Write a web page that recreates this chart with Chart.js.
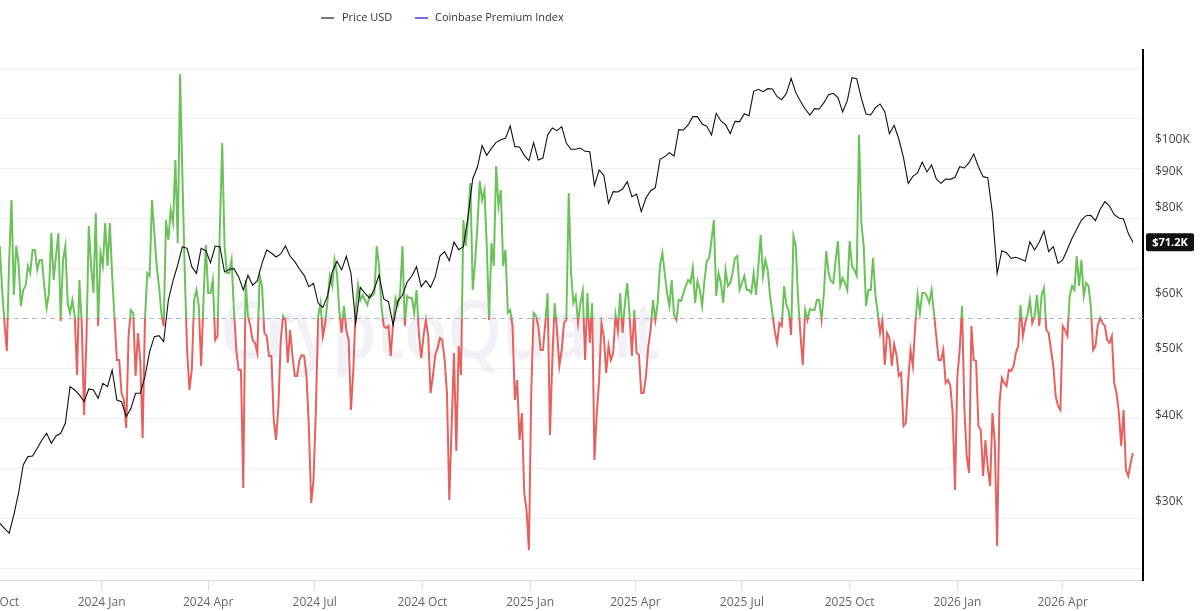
<!DOCTYPE html>
<html>
<head>
<meta charset="utf-8">
<script src="https://cdn.jsdelivr.net/npm/chart.js@4.4.1/dist/chart.umd.min.js"></script>
<style>
  html, body { margin: 0; padding: 0; background: #fff; overflow: hidden; }
  #wrap { position: absolute; left: -40px; top: 0; width: 1241px; height: 611px; }
</style>
</head>
<body>
<div id="wrap"><canvas id="chart"></canvas></div>
<script>
// Coinbase Premium Index, one reading every 2 days from 2023-10-06
const premiumStart = '2023-10-06'
const premiumStep = 2
const premiumIndex = [
    0.072, 0.028, -0.005, -0.033, 0.058, 0.118, 0.023, 0.072, 0.055, 0.012,
    0.028, 0.032, 0.052, 0.045, 0.068, 0.068, 0.048, 0.058, 0.058, 0.032,
    0.010, 0.025, 0.085, 0.038, 0.062, 0.085, -0.003, 0.058, 0.072, 0.015,
    0.005, 0.018, 0.002, -0.057, 0.038, -0.005, -0.097, -0.022, 0.092, 0.052,
    0.025, 0.105, -0.008, 0.065, 0.052, 0.095, 0.052, 0.095, 0.042, 0.000,
    -0.042, -0.042, -0.075, -0.082, -0.110, -0.018, 0.008, 0.005, -0.058, -0.015,
    -0.043, -0.120, -0.002, 0.045, 0.042, 0.118, 0.085, 0.052, 0.032, 0.005,
    -0.008, 0.098, 0.078, 0.108, 0.095, 0.158, 0.075, 0.244, 0.142, 0.045,
    -0.032, -0.072, -0.052, 0.018, 0.028, 0.012, -0.048, 0.018, 0.073, 0.025,
    0.025, 0.038, -0.022, -0.018, 0.092, 0.175, 0.072, 0.045, 0.045, 0.058,
    0.008, -0.032, -0.052, -0.052, -0.170, 0.038, 0.002, -0.008, -0.022, -0.025,
    -0.035, 0.042, 0.032, -0.015, -0.018, -0.038, -0.038, -0.102, -0.122, -0.088,
    -0.022, 0.002, -0.002, -0.045, -0.012, -0.038, -0.058, -0.058, -0.042, -0.037,
    -0.038, -0.058, -0.108, -0.185, -0.162, -0.092, 0.002, 0.015, -0.018, -0.005,
    0.018, 0.042, 0.032, 0.058, 0.045, 0.008, -0.015, 0.012, -0.012, -0.022,
    -0.092, -0.052, 0.008, 0.033, 0.018, 0.023, 0.018, 0.013, 0.023, 0.022,
    0.025, 0.072, 0.052, 0.012, -0.008, -0.010, -0.008, -0.038, -0.005, 0.020,
    0.013, 0.025, 0.072, -0.008, 0.022, 0.020, 0.020, 0.005, 0.028, -0.015,
    -0.040, -0.018, -0.002, -0.018, -0.075, -0.058, -0.037, -0.030, -0.020, -0.022,
    -0.042, -0.075, -0.182, -0.108, -0.035, -0.133, -0.028, -0.057, 0.098, 0.072,
    0.098, 0.135, 0.028, 0.055, 0.092, 0.137, 0.118, 0.128, 0.072, -0.002,
    0.075, 0.052, 0.152, 0.112, 0.128, 0.052, 0.068, 0.005, 0.008, -0.008,
    -0.082, -0.062, -0.122, -0.095, -0.175, -0.192, -0.232, -0.075, 0.005, 0.002,
    -0.008, -0.032, -0.032, -0.005, 0.025, -0.117, -0.042, 0.015, -0.012, -0.048,
    -0.032, -0.005, -0.002, 0.125, 0.045, 0.015, 0.022, -0.005, 0.015, 0.027,
    -0.042, 0.025, -0.025, 0.015, -0.142, -0.095, -0.062, -0.005, -0.018, -0.055,
    -0.028, -0.042, -0.035, 0.003, -0.013, 0.025, -0.015, 0.015, 0.035, 0.003,
    -0.038, 0.008, -0.035, -0.037, -0.075, -0.075, -0.058, -0.028, -0.012, 0.018,
    -0.002, 0.015, 0.053, 0.065, 0.045, 0.025, 0.012, 0.038, 0.003, -0.002,
    0.018, 0.017, 0.025, 0.032, 0.038, 0.035, 0.050, 0.015, 0.037, 0.028,
    0.012, 0.038, 0.057, 0.060, 0.078, 0.098, 0.022, 0.045, 0.035, 0.015,
    0.048, 0.032, 0.035, 0.045, 0.060, 0.062, 0.028, 0.035, 0.042, 0.028,
    0.028, 0.025, 0.045, 0.023, 0.052, 0.083, 0.042, 0.058, 0.048, 0.022,
    0.005, -0.013, -0.025, -0.005, -0.008, 0.032, 0.013, 0.007, -0.017, 0.082,
    0.072, 0.018, -0.017, -0.047, 0.008, -0.002, 0.009, 0.008, 0.008, 0.018,
    0.018, -0.002, 0.025, 0.067, 0.045, 0.037, 0.035, 0.057, 0.077, 0.032,
    0.040, 0.035, 0.028, 0.077, 0.052, 0.048, 0.042, 0.183, 0.095, 0.072,
    0.012, 0.028, 0.028, 0.060, 0.023, 0.005, -0.015, -0.002, -0.047, -0.015,
    -0.020, -0.048, -0.026, -0.037, -0.058, -0.055, -0.108, -0.105, -0.063, -0.032,
    -0.048, -0.008, 0.023, 0.005, 0.025, 0.025, 0.022, 0.015, 0.028, 0.005,
    -0.018, -0.042, -0.042, -0.032, -0.065, -0.062, -0.068, -0.095, -0.172, -0.058,
    -0.032, 0.012, -0.090, -0.138, -0.155, -0.008, -0.042, -0.043, -0.108, -0.112,
    -0.158, -0.122, -0.150, -0.168, -0.095, -0.125, -0.228, -0.085, -0.060, -0.065,
    -0.068, -0.052, -0.053, -0.048, -0.035, -0.028, 0.013, -0.018, -0.005, 0.004,
    0.018, -0.005, 0.002, 0.023, -0.008, 0.023, 0.030, -0.012, -0.015, -0.032,
    -0.048, -0.078, -0.088, -0.092, -0.008, -0.012, -0.018, 0.022, 0.032, 0.028,
    0.062, 0.032, 0.058, 0.022, 0.035, 0.032, 0.012, -0.032, -0.028, -0.007,
    0.000, -0.005, -0.008, -0.022, -0.025, -0.018, -0.065, -0.075, -0.095, -0.128,
    -0.092, -0.152, -0.158, -0.145, -0.135
]

// BTC price in USD, one reading every 4 days from 2023-10-06
const priceStart = '2023-10-06'
const priceStep = 4
const priceUsd = [
    27950, 27490, 27040, 28740, 30890, 33930, 34890, 34970, 35870, 36870,
    37700, 36470, 37370, 37700, 38980, 44030, 43540, 42830, 41890, 43690,
    43540, 42350, 44520, 44030, 46540, 42120, 41890, 39850, 40970, 43070,
    43070, 45520, 49470, 52000, 52170, 51140, 58740, 62640, 65990, 70140,
    69750, 65620, 64180, 69750, 69210, 66500, 70290, 70140, 64470, 65050,
    65190, 63480, 60730, 63760, 61680, 62640, 66350, 69360, 68670, 67770,
    68450, 70290, 67920, 66720, 65120, 63760, 61400, 62080, 58090, 57320,
    59530, 64470, 66800, 64900, 67920, 64180, 54350, 61260, 60050, 59130,
    60990, 63830, 58930, 58410, 54050, 58480, 59720, 62360, 63620, 65620,
    61400, 62640, 61260, 63480, 67990, 68980, 66940, 71230, 69440, 70140,
    77490, 87930, 91310, 98140, 95030, 97270, 99230, 100110, 100550, 104770,
    97810, 97700, 95030, 93360, 99120, 93570, 94190, 101680, 104070, 103150,
    104530, 98900, 96950, 96950, 97380, 96300, 96190, 86000, 90500, 88910,
    81010, 84220, 84120, 84960, 87060, 82830, 83560, 78800, 82460, 84490,
    85340, 93770, 94610, 95880, 94820, 103500, 103380, 105120, 108070, 108070,
    105460, 104650, 101680, 109270, 106520, 105230, 102130, 106400, 106290, 109150,
    108430, 117570, 118350, 117440, 118610, 118480, 115500, 114350, 116790, 122760,
    117050, 113720, 110860, 108670, 110980, 110860, 113220, 116280, 116790, 115120,
    109760, 113970, 123040, 122630, 114860, 109030, 108670, 111350, 112720, 109880,
    102130, 105000, 100330, 94290, 86580, 88620, 89610, 92940, 89910, 92020,
    87840, 86580, 87840, 87740, 88320, 91510, 91110, 92740, 95450, 91510,
    88520, 88220, 78360, 64180, 69210, 68750, 67470, 67690, 67320, 66800,
    71310, 69360, 71230, 73890, 68980, 70140, 66350, 67100, 69520, 72110,
    74300, 76640, 77750, 77840, 76470, 79410, 81460, 80290, 78010, 77150,
    76900, 73320, 71200
]

const tickDates = ['2023-10-01', '2024-01-01', '2024-04-01', '2024-07-01', '2024-10-01', '2025-01-01',
    '2025-04-01', '2025-07-01', '2025-10-01', '2026-01-01', '2026-04-01']
const tickLabels = ['2023 Oct', '2024 Jan', '2024 Apr', '2024 Jul', '2024 Oct', '2025 Jan',
    '2025 Apr', '2025 Jul', '2025 Oct', '2026 Jan', '2026 Apr']
const priceTicks = [30000, 40000, 50000, 60000, 80000, 90000, 100000]

const FONT = "'Open Sans', 'Noto Sans', sans-serif"
const GREEN = '#6cc25a'
const RED = '#e6615e'

//days counted from 2023-10-01
const origin = Date.UTC(2023, 9, 1)
function dayOf(iso) {
    const [y, m, d] = iso.split('-').map(Number)
    return (Date.UTC(y, m - 1, d) - origin) / 86400000
}

const premiumPoints = premiumIndex.map((v, i) => ({x: dayOf(premiumStart) + i * premiumStep, y: v}))
const pricePoints = priceUsd.map((v, i) => ({x: dayOf(priceStart) + i * priceStep, y: v}))

//green above zero, red below, split exactly on the zero line
function premiumColor(ctx) {
    const chart = ctx.chart
    const area = chart.chartArea
    if (!area) return GREEN
    const y0 = chart.scales.y.getPixelForValue(0)
    const f = Math.min(1, Math.max(0, (y0 - area.top) / (area.bottom - area.top)))
    const g = chart.ctx.createLinearGradient(0, area.top, 0, area.bottom)
    g.addColorStop(0, GREEN)
    g.addColorStop(f, GREEN)
    g.addColorStop(f, RED)
    g.addColorStop(1, RED)
    return g
}

const decor = {
    id: 'decor',
    beforeDatasetsDraw(chart) {
        const c = chart.ctx
        const area = chart.chartArea
        c.save()
        //watermark
        c.fillStyle = 'rgba(228,228,238,0.5)'
        c.font = `600 80px ${FONT}`
        c.textAlign = 'center'
        c.textBaseline = 'alphabetic'
        c.fillText('CryptoQuant', 480, 358, 440)
        //zero line
        const y0 = Math.round(chart.scales.y.getPixelForValue(0)) + 0.5
        c.strokeStyle = '#b8b5cc'
        c.lineWidth = 1
        c.setLineDash([5, 4])
        c.beginPath()
        c.moveTo(area.left, y0)
        c.lineTo(area.right, y0)
        c.stroke()
        c.restore()
    },
    afterDraw(chart) {
        const c = chart.ctx
        c.save()
        //legend
        c.font = `11px ${FONT}`
        c.textBaseline = 'middle'
        c.lineWidth = 2
        c.strokeStyle = '#777'
        c.beginPath(); c.moveTo(361, 18); c.lineTo(374, 18); c.stroke()
        c.fillStyle = '#333'
        c.fillText('Price USD', 382, 18)
        c.strokeStyle = '#7b68ee'
        c.beginPath(); c.moveTo(455, 18); c.lineTo(468, 18); c.stroke()
        c.fillText('Coinbase Premium Index', 475, 18)
        //last price badge
        const last = priceUsd[priceUsd.length - 1]
        const ax = chart.scales.y2
        const py = ax.getPixelForValue(last)
        const bx = ax.left + 3
        c.fillStyle = '#111'
        c.beginPath()
        c.roundRect(bx, py - 9, 48, 18, 2)
        c.fill()
        c.fillStyle = '#fff'
        c.font = `bold 11px ${FONT}`
        c.textAlign = 'center'
        c.fillText('$' + (last / 1000).toFixed(1) + 'K', bx + 24, py + 0.5)
        c.restore()
    }
}

new Chart(document.getElementById('chart'), {
    type: 'line',
    data: {
        datasets: [
            {
                label: 'Price USD',
                data: pricePoints,
                yAxisID: 'y2',
                borderColor: '#111',
                borderWidth: 1.1,
                pointRadius: 0,
                tension: 0,
                order: 0
            },
            {
                label: 'Coinbase Premium Index',
                data: premiumPoints,
                yAxisID: 'y',
                borderColor: premiumColor,
                borderWidth: 2,
                pointRadius: 0,
                tension: 0,
                order: 1
            }
        ]
    },
    options: {
        responsive: true,
        maintainAspectRatio: false,
        animation: false,
        layout: {padding: {top: 50, left: 0, right: 0, bottom: 0}},
        plugins: {legend: {display: false}, tooltip: {enabled: false}},
        scales: {
            x: {
                type: 'linear',
                min: -29,
                max: 981.6,
                afterBuildTicks: scale => { scale.ticks = tickDates.map(d => ({value: dayOf(d)})) },
                afterFit: scale => { scale.height = 31 },
                ticks: {
                    autoSkip: false,
                    maxRotation: 0,
                    padding: 5,
                    color: '#666',
                    font: {family: FONT, size: 12},
                    callback: (v, i) => tickLabels[i]
                },
                grid: {drawOnChartArea: false, drawTicks: true, tickLength: 10, color: '#dcdcdc'},
                border: {color: '#dcdcdc'}
            },
            y: {
                position: 'left',
                min: -0.262,
                max: 0.268,
                ticks: {display: false, stepSize: 0.05, includeBounds: false},
                grid: {
                    drawTicks: false,
                    color: ctx => Math.abs(ctx.tick.value) < 1e-9 ? 'rgba(0,0,0,0)' : '#efeff2'
                },
                border: {display: false}
            },
            y2: {
                type: 'logarithmic',
                position: 'right',
                min: 23147,
                max: 134890,
                afterBuildTicks: scale => { scale.ticks = priceTicks.map(v => ({value: v})) },
                afterFit: scale => { scale.width = 58 },
                ticks: {
                    padding: 12,
                    color: '#444',
                    font: {family: FONT, size: 12},
                    callback: v => '$' + (v / 1000) + 'K'
                },
                grid: {drawOnChartArea: false, drawTicks: false},
                border: {color: '#000', width: 2}
            }
        }
    },
    plugins: [decor]
})
</script>
</body>
</html>
